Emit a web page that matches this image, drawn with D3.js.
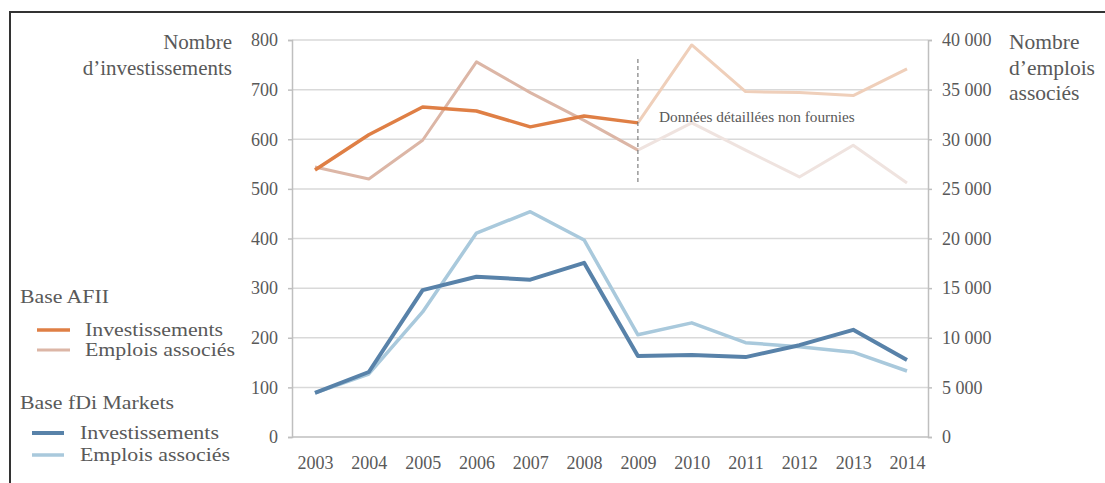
<!DOCTYPE html>
<html><head><meta charset="utf-8">
<script src="https://cdn.jsdelivr.net/npm/d3@7/dist/d3.min.js"></script>
<style>body{margin:0;background:#fff}svg{display:block}text{font-family:"Liberation Serif","Times New Roman",serif}</style>
</head><body><svg id="c" width="1105" height="483"></svg>
<script>
const years = [2003,2004,2005,2006,2007,2008,2009,2010,2011,2012,2013,2014];
const afiiInv = [538,609,665,657,625,647,633];
const afiiInvFaded = [633,790,696,694,688,742]; // 2009-2014
const afiiEmp = [27200,26000,29900,37800,34700,31900,28900];
const afiiEmpFaded = [28900,31650,28900,26200,29400,25600]; // 2009-2014
const fdiInv = [89,131,296,323,317,351,163,165,161,185,216,155];
const fdiEmp = [4450,6350,12600,20550,22700,19850,10300,11500,9500,9100,8550,6650];
const leftTicks = [0,100,200,300,400,500,600,700,800];
const rightTicks = [0,5000,10000,15000,20000,25000,30000,35000,40000];

const svg = d3.select("#c");
const L = 292, R = 928, T = 40, B = 437;
const x = d3.scalePoint().domain(years).range([315, 907]);
const yL = d3.scaleLinear().domain([0,800]).range([B,T]);
const yR = d3.scaleLinear().domain([0,40000]).range([B,T]);
const grey = "#595959";

// frame
svg.append("path").attr("d","M10,483 L10,12 L1105,12").attr("fill","none").attr("stroke","#333").attr("stroke-width",2);

// grid
svg.append("g").selectAll("line").data(leftTicks.slice(1)).join("line")
  .attr("x1",L).attr("x2",R).attr("y1",d=>yL(d)).attr("y2",d=>yL(d))
  .attr("stroke","#d9d9d9").attr("stroke-width",1.5);

// axes
const axL = svg.append("g").attr("transform",`translate(${L},0)`)
  .call(d3.axisLeft(yL).tickValues(leftTicks).tickSize(4).tickPadding(10));
const axR = svg.append("g").attr("transform",`translate(${R},0)`)
  .call(d3.axisRight(yR).tickValues(rightTicks).tickSize(4).tickPadding(10)
  .tickFormat(d=>d3.format(",")(d).replace(/,/g," ")));
const axB = svg.append("g").attr("transform",`translate(0,${B})`)
  .call(d3.axisBottom(x).tickSize(0).tickPadding(19));
[axL,axR,axB].forEach(a=>{
  a.selectAll("path,line").attr("stroke","#bfbfbf").attr("stroke-width",1.5);
  a.selectAll("text").attr("fill",grey).style("font-size","18px").style("font-family",'"Liberation Serif",serif');
});
axB.select(".domain").attr("d",`M${L},0H${R}`);

// axis titles
const tL = svg.append("text").attr("text-anchor","end").attr("fill",grey).style("font-size","21px");
tL.append("tspan").attr("x",232).attr("y",49).text("Nombre");
tL.append("tspan").attr("x",232).attr("y",75).text("d\u2019investissements");
const tR = svg.append("text").attr("text-anchor","start").attr("fill",grey).style("font-size","21.5px");
tR.append("tspan").attr("x",1009).attr("y",49).text("Nombre");
tR.append("tspan").attr("x",1009).attr("y",75).text("d\u2019emplois");
tR.append("tspan").attr("x",1009).attr("y",100).text("associés");

// lines
const line = (ys, scale, offset=0) => d3.line().x((d,i)=>x(years[i+offset])).y(d=>scale(d))(ys);
const add = (ys, scale, offset, color, w) => svg.append("path").attr("d",line(ys,scale,offset))
  .attr("fill","none").attr("stroke",color).attr("stroke-width",w).attr("stroke-linejoin","round");

add(afiiEmpFaded, yR, 6, "#efe3df", 3);
add(afiiInvFaded, yL, 6, "#efcfba", 3);
add(afiiEmp, yR, 0, "#dcb6a6", 3);
add(afiiInv, yL, 0, "#df7f45", 3.5);
add(fdiEmp, yR, 0, "#a9c9dc", 3.5);
add(fdiInv, yL, 0, "#5882a9", 4);

// annotation
svg.append("line").attr("x1",x(2009)).attr("x2",x(2009)).attr("y1",59).attr("y2",183)
  .attr("stroke","#666").attr("stroke-width",1).attr("stroke-dasharray","4,3");
svg.append("text").attr("x",659).attr("y",122).attr("fill",grey).style("font-size","15.3px")
  .text("Données détaillées non fournies");

// legend
const lg = svg.append("g").style("font-size","18px").attr("fill",grey);
const lt = (x0,y0,t,w)=>lg.append("text").attr("x",x0).attr("y",y0).attr("fill",grey)
  .attr("textLength",w).attr("lengthAdjust","spacingAndGlyphs").text(t);
lt(20,303,"Base AFII",89);
lg.append("line").attr("x1",37).attr("x2",70).attr("y1",330).attr("y2",330).attr("stroke","#df7f45").attr("stroke-width",3.5);
lt(85,336,"Investissements",138);
lg.append("line").attr("x1",37).attr("x2",70).attr("y1",350).attr("y2",350).attr("stroke","#dcb6a6").attr("stroke-width",3);
lt(85,356,"Emplois associés",150);
lt(20,409,"Base fDi Markets",154);
lg.append("line").attr("x1",32).attr("x2",64).attr("y1",433).attr("y2",433).attr("stroke","#5882a9").attr("stroke-width",4);
lt(80,439,"Investissements",139);
lg.append("line").attr("x1",32).attr("x2",64).attr("y1",455).attr("y2",455).attr("stroke","#a9c9dc").attr("stroke-width",3.5);
lt(80,461,"Emplois associés",150);
</script></body></html>
